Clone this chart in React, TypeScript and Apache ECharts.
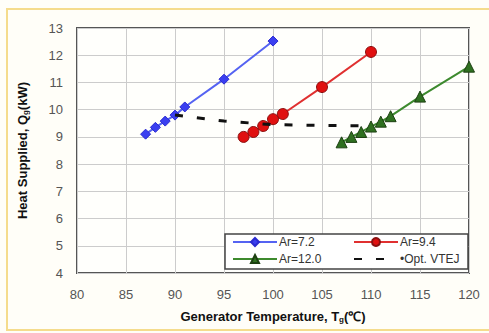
import React, { useEffect, useRef } from "react";
import * as echarts from "echarts";

const ar72X = [87, 88, 89, 90, 91, 95, 100];
const ar72Y = [9.1, 9.35, 9.58, 9.8, 10.1, 11.12, 12.52];
const ar94X = [97, 98, 99, 100, 101, 105, 110];
const ar94Y = [9.0, 9.18, 9.4, 9.65, 9.84, 10.83, 12.12];
const ar120X = [107, 108, 109, 110, 111, 112, 115, 120];
const ar120Y = [8.8, 9.0, 9.18, 9.38, 9.56, 9.76, 10.48, 11.58];
const optX = [90, 95, 100, 105, 110];
const optY = [9.8, 9.58, 9.45, 9.42, 9.4];

const pairs = (xs: number[], ys: number[]) => xs.map((x, i) => [x, ys[i]]);

export default function App() {
  const ref = useRef<HTMLDivElement>(null);
  useEffect(() => {
    if (!ref.current) return;
    const chart = echarts.init(ref.current, null, { renderer: "svg" });
    const font = "Liberation Sans, Arial, sans-serif";
    chart.setOption({
      animation: false,
      backgroundColor: "#fffef8",
      textStyle: { fontFamily: font },
      graphic: [
        {
          type: "rect",
          shape: { x: 7, y: 9, width: 490, height: 321 },
          style: { fill: "none", stroke: "#f5dc8c", lineWidth: 2 },
          z: 0,
        },
        {
          type: "rect",
          shape: { x: 225, y: 234, width: 243, height: 35 },
          style: { fill: "#ffffff", stroke: "#444", lineWidth: 1.5 },
          z: 5,
        },
      ],
      grid: {
        left: 77,
        right: 20,
        top: 28,
        bottom: 60,
        show: true,
        backgroundColor: "#fffffc",
        borderColor: "#555",
        borderWidth: 2,
      },
      legend: [
        {
          orient: "vertical",
          left: 232,
          top: 236,
          itemWidth: 44,
          itemHeight: 10,
          itemGap: 5,
          padding: 0,
          data: ["Ar=7.2", "Ar=12.0"],
          textStyle: { fontFamily: font, fontSize: 12, color: "#333", padding: [0, 0, 0, -3] },
          z: 10,
        },
        {
          orient: "vertical",
          left: 353,
          top: 236,
          itemWidth: 44,
          itemHeight: 10,
          itemGap: 5,
          padding: 0,
          data: ["Ar=9.4", { name: "•Opt. VTEJ", itemStyle: { opacity: 0 } }],
          textStyle: { fontFamily: font, fontSize: 12, color: "#333", padding: [0, 0, 0, -3] },
          z: 10,
        },
      ],
      xAxis: {
        type: "value",
        min: 80,
        max: 120,
        interval: 5,
        name: "{a|Generator Temperature, T}{s|g}{a|(℃)}",
        nameLocation: "middle",
        nameGap: 36,
        nameTextStyle: {
          rich: {
            a: { fontFamily: font, fontSize: 13, fontWeight: "bold", color: "#111" },
            s: { fontFamily: font, fontSize: 8, fontWeight: "bold", color: "#111", verticalAlign: "bottom", padding: [6, 0, 0, 0] },
          },
        },
        axisLine: { show: false },
        axisTick: { show: false },
        axisLabel: { color: "#555", fontSize: 13, margin: 15, fontFamily: font },
        splitLine: { show: true, lineStyle: { color: "#ccc", width: 1 } },
      },
      yAxis: {
        type: "value",
        min: 4,
        max: 13,
        interval: 1,
        name: "{a|Heat Supplied, Q}{s|g}{a|(kW)}",
        nameLocation: "middle",
        nameGap: 48,
        nameRotate: 90,
        nameTextStyle: {
          rich: {
            a: { fontFamily: font, fontSize: 13, fontWeight: "bold", color: "#111" },
            s: { fontFamily: font, fontSize: 8, fontWeight: "bold", color: "#111", verticalAlign: "bottom", padding: [6, 0, 0, 0] },
          },
        },
        axisLine: { show: false },
        axisTick: { show: false },
        axisLabel: { color: "#555", fontSize: 13, margin: 14, fontFamily: font },
        splitLine: { show: true, lineStyle: { color: "#ccc", width: 1 } },
      },
      series: [
        {
          name: "Ar=7.2",
          type: "line",
          data: pairs(ar72X, ar72Y),
          symbol: "diamond",
          symbolSize: 10,
          clip: false,
          lineStyle: { color: "#5563f2", width: 2 },
          itemStyle: { color: "#3a3ff0", borderColor: "#2a2ad0", borderWidth: 1 },
          z: 3,
        },
        {
          name: "Ar=9.4",
          type: "line",
          data: pairs(ar94X, ar94Y),
          symbol: "circle",
          symbolSize: 11,
          clip: false,
          lineStyle: { color: "#e03030", width: 2 },
          itemStyle: { color: "#e01010", borderColor: "#8a1010", borderWidth: 1 },
          z: 3,
        },
        {
          name: "Ar=12.0",
          type: "line",
          data: pairs(ar120X, ar120Y),
          symbol: "triangle",
          symbolSize: 11,
          clip: false,
          lineStyle: { color: "#3d8a2e", width: 2 },
          itemStyle: { color: "#2f7020", borderColor: "#1d4012", borderWidth: 1 },
          z: 3,
        },
        {
          name: "•Opt. VTEJ",
          type: "line",
          data: pairs(optX, optY),
          symbol: "none",
          clip: false,
          lineStyle: { color: "#111", width: 3, type: [8, 14] },
          itemStyle: { color: "#111" },
          z: 4,
        },
      ],
    });
    return () => chart.dispose();
  }, []);
  return (
    <div
      ref={ref}
      style={{ position: "fixed", left: 0, top: 0, width: 489, height: 333 }}
    />
  );
}
